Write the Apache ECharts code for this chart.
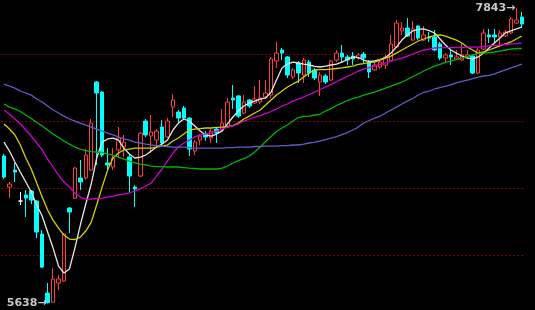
<!DOCTYPE html>
<html>
<head>
<meta charset="utf-8">
<style>
html,body{margin:0;padding:0;background:#000;}
#chart{width:535px;height:310px;}
</style>
<script src="https://cdn.jsdelivr.net/npm/echarts@6/dist/echarts.min.js"></script>
</head>
<body>
<div id="chart"></div>
<script>
// ---- data ----
const opens = [6739,6507,6634,6403,6448,6478,6403,6157,5716,5649,
5791,5806,6351,6425,6575,6575,6634,7291,7216,6687,
6657,6784,6806,6731,6507,6590,7000,6888,6858,6955,
6881,7104,7067,7097,7022,6776,6858,6903,6873,6940,
6933,6955,7172,7187,7060,7157,7134,7142,7179,7194,
7448,7530,7478,7328,7433,7343,7440,7381,7291,7336,
7306,7455,7507,7478,7485,7470,7500,7440,7381,7403,
7418,7448,7552,7672,7694,7604,7709,7604,7627,7627,
7575,7470,7493,7463,7455,7478,7485,7358,7537,7642,
7642,7627,7634,7657,7731,7776];
const closes = [6582,6530,6619,6403,6425,6410,6172,5910,5645,5821,
5821,6157,6321,6649,6545,6746,6985,7209,6746,6672,
6724,6873,6843,6590,6493,6910,6896,6918,6925,6836,
7000,7157,7022,7022,6791,6843,6888,6881,6925,6910,
6985,7142,7157,7037,7142,7112,7164,7172,7209,7463,
7507,7507,7343,7381,7358,7455,7358,7321,7343,7291,
7448,7507,7478,7455,7463,7493,7470,7366,7418,7440,
7478,7575,7731,7694,7634,7687,7619,7642,7619,7530,
7470,7493,7478,7478,7493,7493,7358,7530,7657,7627,
7627,7657,7664,7761,7754,7724];
const lows = [6567,6425,6545,6373,6284,6381,6127,5903,5638,5645,
5739,5800,6164,6418,6485,6560,6627,6672,6731,6634,
6634,6724,6731,6470,6358,6582,6881,6761,6798,6828,
6873,7030,6985,7007,6739,6746,6821,6851,6836,6836,
6925,6948,7090,7022,7052,7097,7127,7127,7164,7172,
7396,7455,7321,7313,7284,7284,7328,7306,7187,7276,
7298,7440,7433,7418,7418,7455,7433,7321,7373,7388,
7388,7440,7545,7642,7627,7597,7604,7597,7590,7522,
7455,7433,7418,7455,7448,7470,7351,7351,7530,7582,
7582,7552,7627,7649,7724,7694];
const highs = [6754,6545,6687,6470,6485,6485,6410,6187,5791,5903,
5851,6164,6358,6657,6709,6791,7015,7298,7224,6798,
6798,6955,6896,6746,6522,6918,7015,7045,6940,7007,
7022,7201,7082,7112,7030,6858,6903,6925,6940,6955,
7090,7172,7269,7194,7194,7164,7261,7306,7306,7478,
7590,7545,7485,7396,7448,7470,7455,7396,7366,7351,
7455,7530,7567,7493,7515,7507,7515,7455,7433,7455,
7493,7642,7754,7739,7769,7746,7716,7709,7664,7679,
7590,7507,7530,7530,7582,7530,7493,7545,7687,7687,
7687,7679,7679,7776,7843,7813];

const ma5 = [6843,6776,6694,6619,6545,6470,6373,6291,6172,6052,
5918,5866,5896,6052,6224,6381,6530,6724,6843,6866,
6873,6858,6798,6754,6724,6731,6746,6776,6806,6828,
6858,6933,6985,7015,7000,6963,6925,6896,6888,6903,
6925,6978,7030,7075,7112,7134,7149,7164,7172,7216,
7306,7396,7425,7440,7433,7425,7418,7407,7403,7410,
7418,7425,7440,7459,7478,7474,7455,7444,7448,7459,
7474,7507,7552,7604,7642,7672,7683,7687,7675,7657,
7612,7567,7530,7507,7485,7470,7463,7478,7507,7545,
7582,7619,7657,7672,7687,7701];
const ma10 = [6978,6940,6896,6821,6724,6642,6537,6433,6336,6261,
6201,6149,6119,6116,6134,6179,6246,6373,6507,6634,
6724,6761,6784,6791,6798,6798,6798,6798,6806,6813,
6821,6851,6873,6903,6933,6940,6944,6948,6948,6952,
6955,6959,6966,6985,7015,7037,7060,7082,7119,7157,
7194,7224,7254,7276,7298,7328,7358,7381,7384,7384,
7388,7392,7396,7403,7410,7422,7429,7437,7440,7455,
7470,7485,7507,7530,7552,7575,7597,7612,7627,7638,
7642,7634,7619,7604,7582,7552,7530,7507,7515,7530,
7545,7560,7575,7590,7612,7634];
const ma20 = [7082,7052,7015,6978,6933,6888,6836,6784,6716,6657,
6597,6545,6507,6463,6433,6418,6418,6422,6425,6433,
6440,6448,6455,6463,6478,6493,6515,6537,6590,6642,
6702,6761,6806,6836,6858,6881,6896,6903,6910,6925,
6940,6955,6963,6978,7000,7015,7030,7041,7056,7071,
7090,7112,7127,7149,7164,7179,7198,7216,7235,7254,
7272,7295,7313,7332,7351,7373,7388,7399,7410,7422,
7433,7448,7459,7470,7485,7500,7515,7530,7537,7545,
7548,7548,7548,7548,7548,7552,7552,7552,7556,7560,
7563,7567,7571,7575,7578,7582];
const ma60 = [7127,7104,7090,7071,7045,7019,6989,6963,6933,6903,
6877,6851,6828,6806,6791,6780,6772,6769,6765,6754,
6743,6731,6716,6701,6687,6679,6672,6664,6660,6660,
6657,6657,6657,6653,6649,6646,6642,6642,6642,6642,
6649,6664,6687,6705,6720,6739,6769,6806,6847,6884,
6922,6948,6970,7000,7026,7034,7037,7045,7052,7075,
7093,7116,7134,7153,7168,7179,7194,7205,7216,7231,
7246,7261,7276,7291,7310,7332,7351,7373,7392,7410,
7422,7437,7448,7459,7470,7481,7493,7504,7507,7511,
7515,7522,7530,7537,7541,7541];
const ma120 = [7276,7261,7246,7224,7209,7194,7164,7142,7112,7082,
7060,7037,7015,7000,6985,6970,6955,6940,6925,6910,
6896,6881,6866,6858,6843,6836,6828,6821,6817,6813,
6810,6806,6806,6806,6802,6798,6798,6798,6798,6798,
6798,6802,6802,6806,6806,6806,6810,6810,6813,6813,
6813,6817,6817,6821,6821,6828,6836,6843,6851,6862,
6873,6884,6899,6914,6933,6955,6985,7004,7022,7037,
7060,7082,7104,7127,7149,7168,7194,7213,7224,7239,
7250,7261,7269,7284,7295,7306,7317,7328,7336,7340,
7351,7366,7381,7396,7410,7425];

const gridValues = [6000, 6500, 7000, 7500];
const categories = opens.map((_, i) => String(i + 1));

// ---- build chart ----
const chart = echarts.init(document.getElementById('chart'), null, {renderer: 'canvas'});
const kData = opens.map((o, i) => {
  const item = {value: [o, closes[i], lows[i], highs[i]]};
  if (o === closes[i]) {
    item.itemStyle = {color: '#ffffff', color0: '#ffffff', borderColor: '#ffffff', borderColor0: '#ffffff', borderColorDoji: '#ffffff'};
  }
  return item;
});
function maSeries(name, data, color) {
  return {
    name: name, type: 'line', data: data, showSymbol: false, symbol: 'none',
    smooth: false, lineStyle: {color: color, width: 1.3}, z: 3, silent: true
  };
}
const labelStyle = {color: '#c8c8c8', fontSize: 11, fontWeight: 'bold', fontFamily: 'DejaVu Sans, sans-serif'};
chart.setOption({
  backgroundColor: '#000000',
  animation: false,
  grid: {left: 1.3, right: 10.5, top: 0, bottom: 0, containLabel: false},
  xAxis: {
    type: 'category', data: categories, boundaryGap: true,
    axisLine: {show: false}, axisTick: {show: false}, axisLabel: {show: false}, splitLine: {show: false}
  },
  yAxis: {
    type: 'value', min: 5590, max: 7903,
    axisLine: {show: false}, axisTick: {show: false}, axisLabel: {show: false},
    splitLine: {show: false}
  },
  series: [
    {
      name: 'K', type: 'candlestick', data: kData, barWidth: 4, z: 2,
      itemStyle: {color: '#000000', color0: '#00ffff', borderColor: '#ff3b3b', borderColor0: '#00ffff', borderWidth: 1},
      markLine: {
        silent: true, symbol: 'none', animation: false, z: 1,
        label: {show: false},
        lineStyle: {color: '#8a0000', type: [2, 2], width: 1},
        data: gridValues.map(v => ({yAxis: v}))
      },
      markPoint: {
        symbol: 'circle', symbolSize: 0, animation: false,
        data: [
          {type: 'max', valueDim: 'highest', label: Object.assign({show: true, position: 'left', distance: 1, formatter: '{c}\u2192'}, labelStyle)},
          {type: 'min', valueDim: 'lowest', label: Object.assign({show: true, position: 'left', distance: 1, formatter: '{c}\u2192'}, labelStyle)}
        ]
      }
    },
    maSeries('MA5', ma5, '#e6e6e6'),
    maSeries('MA10', ma10, '#d2d200'),
    maSeries('MA20', ma20, '#d000d0'),
    maSeries('MA60', ma60, '#00b400'),
    maSeries('MA120', ma120, '#5c5cc8')
  ]
});
</script>
</body>
</html>
